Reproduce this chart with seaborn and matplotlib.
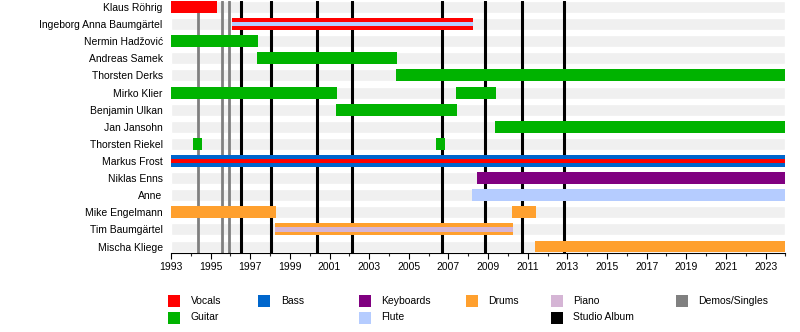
import matplotlib
matplotlib.use("Agg")
import matplotlib.pyplot as plt
from matplotlib.patches import Rectangle
import seaborn as sns
import pandas as pd

# ---------------- data ----------------
members = ["Klaus Röhrig", "Ingeborg Anna Baumgärtel", "Nermin Hadžović", "Andreas Samek",
           "Thorsten Derks", "Mirko Klier", "Benjamin Ulkan", "Jan Jansohn", "Thorsten Riekel",
           "Markus Frost", "Niklas Enns", "Anne", "Mike Engelmann", "Tim Baumgärtel", "Mischa Kliege"]

bar_member = ["Klaus Röhrig", "Ingeborg Anna Baumgärtel", "Nermin Hadžović", "Andreas Samek",
              "Thorsten Derks", "Mirko Klier", "Mirko Klier", "Benjamin Ulkan", "Jan Jansohn",
              "Thorsten Riekel", "Thorsten Riekel", "Markus Frost", "Niklas Enns", "Anne",
              "Mike Engelmann", "Mike Engelmann", "Tim Baumgärtel", "Mischa Kliege"]
bar_role = ["Vocals", "Vocals", "Guitar", "Guitar", "Guitar", "Guitar", "Guitar", "Guitar", "Guitar",
            "Guitar", "Guitar", "Bass", "Keyboards", "Flute", "Drums", "Drums", "Drums", "Drums"]
bar_start = [1993.0, 1996.06, 1993.0, 1997.35, 2004.37, 1993.0, 2007.38, 2001.35, 2009.37,
             1994.09, 2006.37, 1993.0, 2008.43, 2008.2, 1993.0, 2010.2, 1998.27, 2011.37]
bar_end = [1995.3, 2008.25, 1997.39, 2004.4, 2024.0, 2001.38, 2009.4, 2007.43, 2024.0,
           1994.56, 2006.84, 2024.0, 2024.0, 2024.0, 1998.3, 2011.4, 2010.26, 2024.0]

stripe_member = ["Ingeborg Anna Baumgärtel", "Markus Frost", "Tim Baumgärtel"]
stripe_role = ["Flute", "Vocals", "Piano"]
stripe_start = [1996.06, 1993.0, 1998.27]
stripe_end = [2008.25, 2024.0, 2010.26]

demo_years = [1994.38, 1995.59, 1995.94]
album_years = [1996.55, 1998.06, 2000.38, 2002.15, 2006.66, 2008.84, 2010.72, 2012.83]

roles = ["Vocals", "Guitar", "Bass", "Keyboards", "Flute", "Drums", "Piano", "Studio Album", "Demos/Singles"]
role_colors = ["#ff0000", "#00b300", "#0066cc", "#800080", "#b5ccff", "#ffa02e", "#d5b5d5",
               "#000000", "#808080"]

year_min, year_max = 1993, 2024
tick_years = list(range(1993, 2024, 2))

# ---------------- style ----------------
sns.set_theme(style="white")
plt.rcParams["font.family"] = ["Liberation Sans", "DejaVu Sans"]
plt.rcParams["font.size"] = 7.5

color_of = dict(zip(roles, role_colors))
row_of = {m: i for i, m in enumerate(members)}

bars = pd.DataFrame({"member": bar_member, "role": bar_role, "start": bar_start, "end": bar_end})
stripes = pd.DataFrame({"member": stripe_member, "role": stripe_role,
                        "start": stripe_start, "end": stripe_end})

W, H = 800, 332
fig = plt.figure(figsize=(W / 100, H / 100), dpi=100)
ax_left, ax_right, ax_top, ax_bottom = 171, 785.4, 1.0, 252.5
ax = fig.add_axes([ax_left / W, 1 - ax_bottom / H, (ax_right - ax_left) / W, (ax_bottom - ax_top) / H])

bh = 0.70
sh = 0.27

# background bands
ax.barh(range(len(members)), [year_max - year_min] * len(members), left=year_min,
        height=bh, color="#f0f0f0", zorder=0)

# vertical lines
for x in demo_years:
    ax.axvline(x, color=color_of["Demos/Singles"], lw=2.0, zorder=1)
for x in album_years:
    ax.axvline(x, color=color_of["Studio Album"], lw=2.2, zorder=1)

# bars
ax.barh([row_of[m] for m in bars["member"]], bars["end"] - bars["start"], left=bars["start"],
        height=bh, color=[color_of[r] for r in bars["role"]], zorder=2, linewidth=0)
ax.barh([row_of[m] for m in stripes["member"]], stripes["end"] - stripes["start"], left=stripes["start"],
        height=sh, color=[color_of[r] for r in stripes["role"]], zorder=3, linewidth=0)

ax.set_xlim(year_min, year_max)
ax.set_ylim(len(members) - 1 + bh / 2, -bh / 2)
ax.set_yticks(range(len(members)))
ax.set_yticklabels(members)
ax.set_xticks(tick_years)
ax.set_xticklabels([str(y) for y in tick_years])
ax.set_xticks(range(year_min, year_max + 1), minor=True)
ax.tick_params(axis="y", length=0, pad=6, labelsize=7.5, colors="black")
ax.tick_params(axis="x", which="major", direction="out", length=4, width=0.8, pad=3,
               labelsize=7.5, colors="black", bottom=True)
ax.tick_params(axis="x", which="minor", direction="out", length=2.5, width=0.8, bottom=True)
for s in ["left", "top", "right"]:
    ax.spines[s].set_visible(False)
ax.spines["bottom"].set_color("black")
ax.spines["bottom"].set_linewidth(0.8)
ax.set_facecolor("white")
ax.grid(False)

# legend (manual layout)
legend_pos = {"Vocals": (168.3, 0), "Guitar": (168.3, 1), "Bass": (258.3, 0), "Keyboards": (359, 0),
              "Flute": (359, 1), "Drums": (466, 0), "Piano": (550.7, 0), "Studio Album": (550.7, 1),
              "Demos/Singles": (675.7, 0)}
row_top = [294.5, 311.5]
sq = 12
for role in roles:
    x, r = legend_pos[role]
    y = row_top[r]
    fig.add_artist(Rectangle((x / W, 1 - (y + sq) / H), sq / W, sq / H,
                             transform=fig.transFigure, color=color_of[role], lw=0))
    fig.text((x + 22.4) / W, 1 - (y + sq / 2) / H, role, ha="left", va="center",
             fontsize=7.5, color="black")

fig.savefig("out.png", dpi=100)
